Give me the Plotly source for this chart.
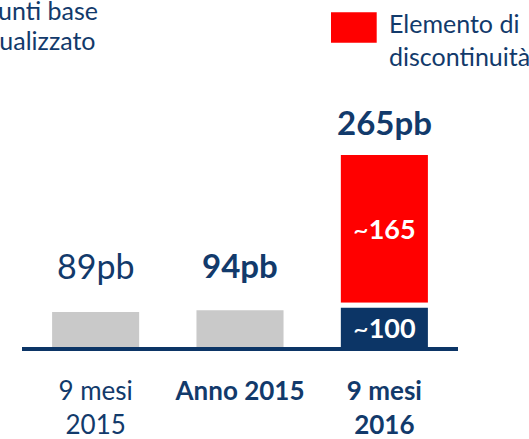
import plotly.graph_objects as go

# ---------------- data ----------------
categories = ["9 mesi 2015", "Anno 2015", "9 mesi 2016"]
tick_labels = ["9 mesi<br>2015", "<b>Anno 2015</b>", "<b>9 mesi<br>2016</b>"]
base_values = [89, 94, 100]          # pb (last one = ~100 underlying for 9M 2016)
discontinuity_value = 165            # ~165 pb discontinuity element (9M 2016)
top_labels = ["89pb", "<b>94pb</b>"]
legend_label = ["Elemento di", "discontinuità"]
title_lines = ["punti base", "annualizzato"]

# ---------------- style ----------------
W, H = 529, 439
ML, MR, MT, MB = 22, 71, 0, 92
PW, PH = W - ML - MR, H - MT - MB
NAVY = "#0c3566"
TEXT = "#123a6b"
GRAY = "#c9c9c9"
RED = "#ff0000"
FONT = "Lato"
top_label_sizes = [34, 33]

def px_x(px):
    return (px - ML) / PW

def px_y(py):
    return (H - MB - py) / PH

bar_colors = [GRAY, GRAY, NAVY]
inside_text = ["", "", "~<b>%d</b>" % base_values[2]]

fig = go.Figure()
fig.add_trace(go.Bar(
    x=categories, y=base_values, width=0.603,
    marker=dict(color=bar_colors, line=dict(width=0)),
    text=inside_text, textposition="inside", insidetextanchor="middle",
    textangle=0, constraintext="none",
    insidetextfont=dict(family=FONT, size=27, color="white"),
    hoverinfo="skip", showlegend=False, yaxis="y",
))
fig.add_trace(go.Bar(
    x=[categories[2]], y=[discontinuity_value], width=0.603,
    marker=dict(color=RED, line=dict(width=0)),
    text=["~<b>%d</b>" % discontinuity_value], textposition="inside",
    insidetextanchor="middle", textangle=0, constraintext="none",
    insidetextfont=dict(family=FONT, size=27, color="white"),
    hoverinfo="skip", showlegend=False, yaxis="y2",
))

annotations = []
# value labels above the grey bars
for cat, lab, sz in zip(categories[:2], top_labels, top_label_sizes):
    annotations.append(dict(
        x=cat, y=max(base_values[:2]), xref="x", yref="y",
        text=lab, showarrow=False, xanchor="center", yanchor="middle",
        yshift=45.0, font=dict(family=FONT, size=sz, color=TEXT)))
# total label above the 9M 2016 stack
annotations.append(dict(
    x=categories[2], y=discontinuity_value, xref="x", yref="y2",
    text="<b>%dpb</b>" % (base_values[2] + discontinuity_value),
    showarrow=False, xanchor="center", yanchor="middle", yshift=33.5,
    font=dict(family=FONT, size=33, color=TEXT)))
# top-left (cropped) title
annotations.append(dict(x=px_x(99.5), y=px_y(9.5), xref="paper", yref="paper",
                        text=title_lines[0], showarrow=False, xanchor="right",
                        yanchor="middle", font=dict(family=FONT, size=25, color=TEXT)))
annotations.append(dict(x=px_x(97.5), y=px_y(39.5), xref="paper", yref="paper",
                        text=title_lines[1], showarrow=False, xanchor="right",
                        yanchor="middle", font=dict(family=FONT, size=25, color=TEXT)))
# legend text
annotations.append(dict(x=px_x(386.5), y=px_y(23.4), xref="paper", yref="paper",
                        text=legend_label[0], showarrow=False, xanchor="left",
                        yanchor="middle", font=dict(family=FONT, size=25, color=TEXT)))
annotations.append(dict(x=px_x(386.5), y=px_y(56.0), xref="paper", yref="paper",
                        text=legend_label[1], showarrow=False, xanchor="left",
                        yanchor="middle", font=dict(family=FONT, size=25, color=TEXT)))

shapes = [dict(type="rect", xref="paper", yref="paper",
               x0=px_x(331), x1=px_x(376.7), y0=px_y(42.7), y1=px_y(12.3),
               fillcolor=RED, line=dict(width=0), layer="above")]

red_bottom_px = 302.7
fig.update_layout(
    width=W, height=H,
    margin=dict(l=ML, r=MR, t=MT, b=MB, pad=0),
    paper_bgcolor="white", plot_bgcolor="white",
    barmode="overlay",
    xaxis=dict(range=[-0.51, 2.51], tickmode="array", tickvals=categories,
               ticktext=tick_labels, showgrid=False, zeroline=False,
               showline=True, linecolor=NAVY, linewidth=3.5, ticks="",
               ticklabelstandoff=18,
               tickfont=dict(family=FONT, size=26, color=TEXT), fixedrange=True),
    yaxis=dict(domain=[0, 1], range=[0, PH / 0.392], visible=False, fixedrange=True),
    yaxis2=dict(domain=[px_y(red_bottom_px), 1], range=[0, red_bottom_px / 0.895],
                visible=False, anchor="x", fixedrange=True),
    annotations=annotations, shapes=shapes,
)

fig.write_html("out.html", config={"displayModeBar": False, "staticPlot": True},
               post_script="document.body.style.margin='0';")
